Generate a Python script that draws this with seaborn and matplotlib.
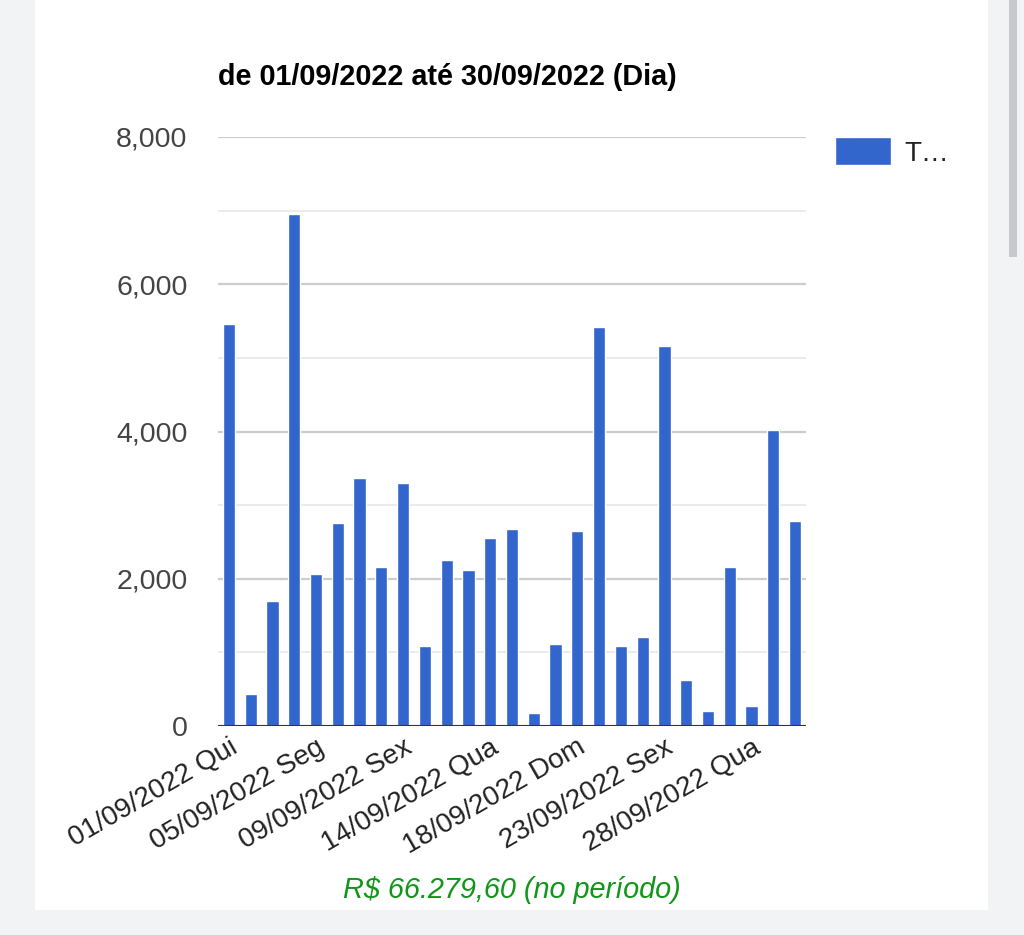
import pandas as pd
import seaborn as sns
import matplotlib.pyplot as plt
from matplotlib.patches import Rectangle
from matplotlib.ticker import FuncFormatter, MultipleLocator

# dias com venda em setembro/2022 (faltam 11, 22 e 25)
dias = ["01/09/2022 Qui", "02/09/2022 Sex", "03/09/2022 Sáb", "04/09/2022 Dom",
        "05/09/2022 Seg", "06/09/2022 Ter", "07/09/2022 Qua", "08/09/2022 Qui",
        "09/09/2022 Sex", "10/09/2022 Sáb", "12/09/2022 Seg", "13/09/2022 Ter",
        "14/09/2022 Qua", "15/09/2022 Qui", "16/09/2022 Sex", "17/09/2022 Sáb",
        "18/09/2022 Dom", "19/09/2022 Seg", "20/09/2022 Ter", "21/09/2022 Qua",
        "23/09/2022 Sex", "24/09/2022 Sáb", "26/09/2022 Seg", "27/09/2022 Ter",
        "28/09/2022 Qua", "29/09/2022 Qui", "30/09/2022 Sex"]
totais = [5455, 433, 1702, 6957, 2061, 2752, 3374, 2163, 3306, 1084,
          2256, 2124, 2552, 2679, 170, 1118, 2650, 5425, 1084, 1215,
          5163, 627, 199, 2163, 267, 4016, 2781]
yticks = [0, 2000, 4000, 6000, 8000]
titulo = "de 01/09/2022 até 30/09/2022 (Dia)"
rodape = "R$ 66.279,60 (no período)"
legenda = "T…"

AZUL = "#3366cc"

sns.set_style("white")
plt.rcParams['font.family'] = ['Liberation Sans', 'DejaVu Sans']

df = pd.DataFrame({'dia': dias, 'total': totais})

fig = plt.figure(figsize=(10.24, 9.35), dpi=100)
fig.patch.set_facecolor("#f2f3f5")

# cartao branco e barra de rolagem
fig.patches.append(Rectangle((35 / 1024, 25 / 935), 953 / 1024, 910 / 935,
                             transform=fig.transFigure, facecolor="white",
                             edgecolor="none", zorder=-5))
fig.patches.append(Rectangle((1009 / 1024, 1 - 257 / 935), 8 / 1024, 257 / 935,
                             transform=fig.transFigure, facecolor="#c9c9cd",
                             edgecolor="none", zorder=-5))

ax = fig.add_axes([218 / 1024, 209 / 935, 588 / 1024, 589 / 935])
ax.set_zorder(2)
ax.set_facecolor("white")
sns.barplot(data=df, x='dia', y='total', color=AZUL, width=0.56,
            saturation=1, label=legenda, ax=ax, zorder=3)

ax.set_ylim(0, 8000)
ax.set_xlim(-0.5, len(dias) - 0.5)
ax.yaxis.set_major_locator(MultipleLocator(2000))
ax.yaxis.set_minor_locator(MultipleLocator(1000))
ax.set_yticks(yticks)
ax.yaxis.set_major_formatter(FuncFormatter(lambda v, p: f"{int(v):,}"))
ax.grid(axis='y', which='major', color="#cccccc", lw=1.6, zorder=0)
ax.grid(axis='y', which='minor', color="#ebebeb", lw=1.4, zorder=0)
ax.set_axisbelow(True)
ax.axhline(0, color="#333333", lw=2.2, zorder=4)
for s in ax.spines.values():
    s.set_visible(False)

ax.tick_params(axis='y', which='both', length=0, pad=22, labelsize=20.5,
               labelcolor="#444444")
ax.tick_params(axis='x', length=0, pad=6, labelsize=20, labelcolor="#222222")
ax.set_xticks(range(0, len(dias), 4))
ax.set_xticklabels(dias[::4], rotation=30, ha='right', rotation_mode='anchor')
ax.set_xlabel("")
ax.set_ylabel("")

ax.text(0, 1 + 60 / 589, titulo, transform=ax.transAxes, fontsize=20.7,
        fontweight='bold', color="#000000", ha='left', va='center')

ax.legend(loc='upper left', bbox_to_anchor=(617 / 588, 1.0), frameon=False,
          borderaxespad=0, borderpad=0, handlelength=2.0, handleheight=1.2,
          handletextpad=0.5, fontsize=20, labelcolor="#222222")

fig.text(512 / 1024, 1 - 890 / 935, rodape, color="#109618", fontsize=20.8,
         style='italic', ha='center', va='center')

fig.savefig("out.png", dpi=100, facecolor=fig.get_facecolor())
